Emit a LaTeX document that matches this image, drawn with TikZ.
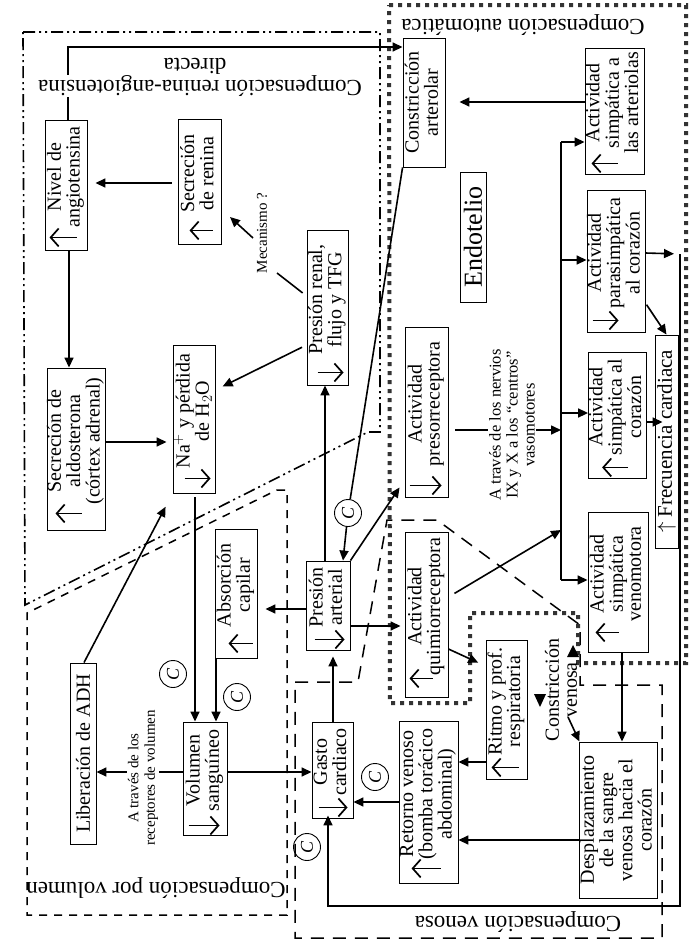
\documentclass[tikz,border=0pt]{standalone}
\usepackage{graphicx}
\usepackage{fontspec}
\setmainfont{Liberation Serif}
\usetikzlibrary{arrows.meta}
\newcommand{\rt}[1]{\rotatebox{90}{\begin{tabular}{@{}c@{}}#1\end{tabular}}}
\newcommand{\rta}[1]{\rotatebox{90}{\hspace{16pt}\begin{tabular}{@{}c@{}}#1\end{tabular}}}
\newcommand{\symarr}[4]{\draw[sym] ([shift={(#2,-#4)}]#1.south west) -- ([shift={(#3,-#4)}]#1.south west);}
\begin{document}
\begin{tikzpicture}[x=1pt,y=-1pt,
  bx/.style={draw, line width=0.9pt, inner sep=0pt, font=\fontsize{20}{18}\selectfont},
  arr/.style={line width=1.6pt, -{Triangle[length=10pt,width=9pt]}},
  ln/.style={line width=1.6pt},
  sym/.style={line width=1.7pt, -{Straight Barb[length=8pt,width=18pt]}},
  cc/.style={draw, circle, line width=0.9pt, minimum size=27pt, inner sep=0pt, font=\fontsize{18}{18}\selectfont\itshape},
  grp/.style={font=\fontsize{23}{23}\selectfont, rotate=180, inner sep=1pt},
  lbl/.style={rotate=90, align=center, inner sep=1pt},
  grpren/.style={line width=1.6pt, dash pattern=on 12pt off 4pt on 2pt off 4pt on 2pt off 4pt},
  grpvol/.style={line width=1.5pt, dash pattern=on 8pt off 7pt},
  grpven/.style={line width=1.5pt, dash pattern=on 13pt off 9pt},
  grpaut/.style={line width=4pt, black!80, dash pattern=on 4pt off 5pt}
]
\useasboundingbox (0,0) rectangle (691,951);
\fill[white] (0,0) rectangle (691,951);

% ---------- group borders ----------
\draw[grpren] (23,32) -- (380,32) -- (380,432) -- (368,432) -- (25,605) -- cycle;
\draw[grpvol] (277,490) -- (287,490) -- (287,915) -- (27,915) -- (27,613) -- cycle;
\draw[grpven] (295,682) -- (358,682) -- (387,520) -- (437,520) -- (580,625) -- (580,685) -- (662,685) -- (662,938) -- (295,938) -- cycle;
\draw[grpaut] (389,5) -- (686,5) -- (686,663) -- (578,663) -- (578,613) -- (470,613) -- (470,703) -- (390,703) -- cycle;

% ---------- boxes ----------
\node[bx, minimum width=42pt, minimum height=130pt] (nivel) at (66,185) {\rta{Nivel de\\angiotensina}};
\node[bx, minimum width=43pt, minimum height=125pt] (renina) at (199.5,181.5) {\rta{Secreción\\de renina}};
\node[bx, minimum width=58pt, minimum height=162pt] (aldo) at (76,449) {\rta{Secreción de\\aldosterona\\(córtex adrenal)}};
\node[bx, minimum width=42pt, minimum height=148pt] (na) at (194,419) {\rta{Na$^{+}$ y pérdida\\de H$_2$O}};
\node[bx, minimum width=41pt, minimum height=155pt] (renal) at (327.5,307.5) {\rta{Presión renal,\\flujo y TFG}};
\node[bx, minimum width=42pt, minimum height=129pt] (absor) at (236,593.5) {\rta{Absorción\\capilar}};
\node[bx, minimum width=44pt, minimum height=89pt] (arterial) at (328,605.5) {\rta{Presión\\arterial}};
\node[bx, minimum width=44pt, minimum height=113pt] (vol) at (205,778.5) {\rta{Volumen\\sanguíneo}};
\node[bx, minimum width=26pt, minimum height=181pt] (adh) at (83,753.5) {\rotatebox{90}{Liberación de ADH}};
\node[bx, minimum width=41pt, minimum height=96pt] (gasto) at (332.5,770) {\rta{Gasto\\cardiaco}};
\node[bx, minimum width=59pt, minimum height=162pt] (retorno) at (428.5,802) {\rta{Retorno venoso\\(bomba torácico\\abdominal)}};
\node[bx, minimum width=41pt, minimum height=139pt] (ritmo) at (506.5,709.5) {\rta{Ritmo y prof.\\respiratoria}};
\node[bx, minimum width=73pt, minimum height=156pt] (despl) at (618.5,820) {\rt{Desplazamiento\\de la sangre\\venosa hacia el\\corazón}};
\node[bx, minimum width=60pt, minimum height=140pt] (venomo) at (618,582) {\rta{Actividad\\simpática\\venomotora}};
\node[bx, minimum width=43pt, minimum height=165pt] (quimio) at (426.5,614.5) {\rta{Actividad\\quimiorreceptora}};
\node[bx, minimum width=43pt, minimum height=170pt] (preso) at (426.5,412) {\rta{Actividad\\presorreceptora}};
\node[bx, minimum width=42pt, minimum height=129pt] (constr) at (424,102.5) {\rt{Constricción\\arterolar}};
\node[bx, minimum width=26pt, minimum height=130pt, font=\fontsize{26}{26}\selectfont] (endot) at (473,237) {\rotatebox{90}{Endotelio}};
\node[bx, minimum width=59pt, minimum height=126pt] (arteriolas) at (614.5,111) {\rta{Actividad\\simpática a\\las arteriolas}};
\node[bx, minimum width=58pt, minimum height=142pt] (parasim) at (616,261) {\rta{Actividad\\parasimpática\\al corazón}};
\node[bx, minimum width=57pt, minimum height=126pt] (simcor) at (617.5,415) {\rta{Actividad\\simpática al\\corazón}};
\node[bx, minimum width=23pt, minimum height=213pt, font=\fontsize{21}{21}\selectfont] (frec) at (666.5,441.5) {\rotatebox{90}{$\uparrow$ Frecuencia cardiaca}};

% ---------- increase / decrease symbols ----------
\symarr{nivel}{32}{5}{13}
\symarr{renina}{35}{12}{14}
\symarr{aldo}{35}{9}{17}
\symarr{na}{12}{38}{15}
\symarr{renal}{11}{37}{13}
\symarr{absor}{38}{14}{15}
\symarr{arterial}{9}{39}{11}
\symarr{vol}{6}{37}{10}
\symarr{gasto}{7}{36}{11}
\symarr{retorno}{42}{13}{15}
\symarr{ritmo}{33}{6}{12}
\symarr{venomo}{31}{8}{20}
\symarr{quimio}{28}{5}{19}
\symarr{preso}{5}{37}{12}
\symarr{arteriolas}{33}{7}{11}
\symarr{parasim}{6}{32}{12}
\symarr{simcor}{40}{14}{11}

% ---------- circles ----------
\node[cc] (c1) at (173,674) {\rotatebox{90}{C}};
\node[cc] (c2) at (237,697) {\rotatebox{90}{C}};
\node[cc] (c3) at (348,513) {\rotatebox{90}{C}};
\node[cc] (c4) at (375,777) {\rotatebox{90}{C}};
\node[cc] (c5) at (307,847) {\rotatebox{90}{C}};

% ---------- helper coordinates ----------
\coordinate (m1) at (277,273);
\coordinate (m2) at (253,238);
\coordinate (m3) at (230,217);
\coordinate (busT) at (561,142);
\coordinate (busP) at (561,260);
\coordinate (busS) at (561,413);
\coordinate (busN) at (561,430);
\coordinate (busQ) at (561,530);
\coordinate (busB) at (561,580);
\coordinate (frT) at (680,254);
\coordinate (frB) at (680,906);
\coordinate (cvA) at (568,717);

% ---------- connectors ----------
\draw[arr, shorten <=6pt, shorten >=8pt] (renina.west |- 0,183) -- (nivel.east |- 0,183);
\draw[arr] (nivel.south -| 69,0) -- (aldo.north -| 69,0);
\draw[arr] (nivel.north -| 68,0) |- (constr.west |- 0,47);
\draw[arr, shorten >=6pt] (aldo.east |- 0,442) -- (na.west |- 0,442);
\draw[arr, shorten <=5pt, shorten >=8pt] (renal.west |- 0,345) -- (na.east |- 0,390);
\draw[ln, shorten <=5pt] (renal.west |- 0,296) -- (m1);
\draw[arr] (m2) -- (m3);
\draw[arr] (arterial.north -| 325,0) -- (renal.south -| 325,0);
\draw[ln] (constr.south west) -- (c3);
\draw[arr] (c3) -- (arterial.north -| 343,0);
\draw[arr, shorten >=9pt] (arterial.north east) -- (preso.west |- 0,480);
\draw[arr, shorten >=4pt] (arterial.east |- 0,626) -- (quimio.west |- 0,626);
\draw[arr, shorten >=8pt] (arterial.west |- 0,609) -- (absor.east |- 0,609);
\draw[arr, shorten <=4pt] (na.south -| 195,0) -- (vol.north -| 195,0);
\draw[arr] (absor.south -| 216,0) -- (vol.north -| 216,0);
\draw[arr] (vol.west |- 0,772) -- (adh.east |- 0,772);
\draw[arr, shorten >=15pt] (adh.north -| 84,0) -- (na.south west);
\draw[arr] (vol.east |- 0,772) -- (gasto.west |- 0,772);
\draw[arr, shorten >=6pt] (gasto.north -| 333,0) -- (arterial.south -| 333,0);
\draw[arr] (retorno.west |- 0,802) -- (gasto.east |- 0,802);
\draw[arr] (ritmo.west |- 0,762) -- (retorno.east |- 0,762);
\draw[arr] (despl.west |- 0,840) -- (retorno.east |- 0,840);
\draw[arr] (venomo.south -| 622,0) -- (despl.north -| 622,0);
\draw[arr] (cvA) -- (despl.north west);
\draw[arr, shorten >=8pt] (quimio.east |- 0,649) -- (ritmo.west |- 0,666);
\draw[arr, shorten <=7pt] (quimio.east |- 0,597) -- (busQ);
\draw[arr, shorten <=7pt] (preso.east |- 0,430) -- (busN);
\draw[ln] (busT) -- (busB);
\draw[arr] (busT) -- (arteriolas.west |- busT);
\draw[arr] (busP) -- (parasim.west |- busP);
\draw[arr] (busS) -- (simcor.west |- busS);
\draw[arr] (busB) -- (venomo.west |- busB);
\draw[arr, shorten >=14pt] (arteriolas.west |- 0,102) -- (constr.east |- 0,102);
\draw[arr, shorten <=2pt] (parasim.east |- 0,303) -- (frec.north);
\draw[arr, shorten >=6pt] (parasim.east |- 0,253) -- (frT);
\draw[arr, shorten >=-8pt] (simcor.east |- 0,422) -- (frec.west |- 0,422);
\draw[arr, shorten >=-3pt] (frT) -- (frB) -| (gasto.south -| 328,0);
% lone arrowheads near "Constriccion venosa"
\fill (534,694) -- (546,694) -- (540,707) -- cycle;
\fill (567,657) -- (579,657) -- (573,645) -- cycle;

% ---------- labels ----------
\node[grp, fill=white] (gra) at (200,86) {Compensación renina-angiotensina};
\node[grp] (grb) at (195,66) {directa};
\node[grp] (gaut) at (523,25) {Compensación automática};
\node[grp] (gvol) at (156,888) {Compensación por volumen};
\node[grp] (gven) at (518,922) {Compensación venosa};
\node[lbl, font=\fontsize{15}{15}\selectfont] (mec) at (262,233) {Mecanismo ?};
\node[lbl, fill=white, font=\fontsize{15}{16.5}\selectfont] (lblvol) at (143,778) {A través de los\\receptores de volumen};
\node[lbl, fill=white, font=\fontsize{16.5}{17}\selectfont] (nerv) at (512,425) {A través de los nervios\\IX y X a los “centros”\\vasomotores};
\node[lbl, font=\fontsize{20}{18}\selectfont] (cv) at (561,690) {Constricción\\venosa};
\end{tikzpicture}
\end{document}
